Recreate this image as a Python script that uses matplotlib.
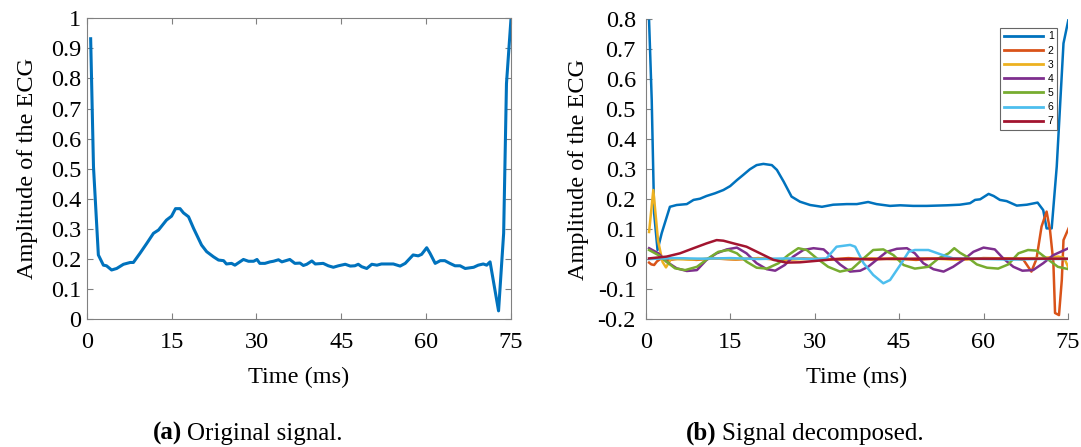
import matplotlib
matplotlib.use("Agg")
import matplotlib.pyplot as plt

# ---------------- data ----------------
# (a) original signal
orig_t = [0.7, 1.2, 2.06, 2.95, 3.5, 4.4, 5.3, 6.5, 7.7, 8.25, 9.4, 10.6, 11.8, 12.7, 14.1, 15.0,
          15.7, 16.5, 17.1, 18.0, 18.9, 20.3, 21.2, 22.4, 23.3, 24.2, 24.7, 25.6, 26.2, 27.7, 28.6,
          29.5, 30.1, 30.6, 31.5, 32.4, 33.0, 33.9, 34.5, 35.9, 36.8, 37.7, 38.3, 38.9, 39.8, 40.4,
          41.8, 42.7, 43.6, 44.5, 45.7, 46.6, 47.4, 48.0, 48.6, 49.5, 50.4, 51.3, 52.1, 54.2, 55.4,
          56.3, 57.7, 58.6, 59.2, 60.1, 60.7, 61.6, 62.5, 63.3, 64.2, 65.1, 66.0, 66.9, 68.4, 69.2,
          70.1, 70.7, 71.3, 72.8, 73.7, 74.2, 75.0]
orig_v = [0.932, 0.506, 0.213, 0.179, 0.177, 0.163, 0.168, 0.182, 0.188, 0.188, 0.218, 0.251, 0.285,
          0.296, 0.329, 0.342, 0.367, 0.367, 0.353, 0.340, 0.301, 0.246, 0.224, 0.207, 0.196, 0.194,
          0.183, 0.185, 0.179, 0.198, 0.192, 0.192, 0.198, 0.185, 0.185, 0.190, 0.192, 0.197, 0.190,
          0.198, 0.185, 0.186, 0.178, 0.182, 0.193, 0.183, 0.185, 0.177, 0.172, 0.177, 0.182, 0.176,
          0.177, 0.182, 0.174, 0.168, 0.182, 0.179, 0.183, 0.183, 0.176, 0.185, 0.213, 0.210, 0.215,
          0.237, 0.218, 0.185, 0.194, 0.194, 0.185, 0.177, 0.177, 0.168, 0.172, 0.179, 0.183, 0.179,
          0.190, 0.027, 0.285, 0.783, 0.999]

# (b) decomposed components
c1_t = [0.6, 1.07, 1.5, 2.1, 2.84, 4.3, 5.5, 7.3, 8.5, 9.65, 10.8, 12.3, 13.8, 15.0, 16.2, 17.3, 18.5,
        19.7, 20.9, 22.4, 23.3, 24.5, 25.9, 27.4, 29.2, 31.3, 33.3, 35.7, 37.5, 39.5, 41.0, 43.4,
        45.2, 47.5, 49.9, 53.5, 55.8, 57.6, 58.5, 59.4, 60.9, 61.8, 62.9, 64.1, 65.9, 67.7, 69.6,
        70.6, 71.2, 72.1, 73.0, 74.2, 75.1]
c1_v = [0.794, 0.53, 0.152, 0.030, 0.086, 0.174, 0.180, 0.183, 0.197, 0.201, 0.210, 0.219, 0.230,
        0.243, 0.263, 0.280, 0.299, 0.313, 0.317, 0.313, 0.297, 0.258, 0.208, 0.191, 0.180, 0.174,
        0.181, 0.183, 0.183, 0.190, 0.183, 0.177, 0.179, 0.177, 0.177, 0.179, 0.181, 0.186, 0.197,
        0.199, 0.217, 0.210, 0.197, 0.193, 0.178, 0.181, 0.188, 0.163, 0.102, 0.102, 0.308, 0.719,
        0.800]

c2_t = [0.6, 1.0, 1.5, 2.0, 2.6, 4.0, 6.0, 9.0, 12.0, 16.0, 20.0, 24.0, 28.0, 32.0, 36.0, 40.0,
        44.0, 48.0, 52.0, 56.0, 60.0, 64.0, 66.1, 67.1, 68.5, 69.4, 70.3, 71.2, 71.8, 72.4, 72.7,
        73.4, 73.9, 74.2, 75.1]
c2_v = [-0.012, -0.018, -0.02, -0.008, 0.0, -0.004, 0.002, -0.003, 0.002, -0.002, 0.003, -0.003,
        0.002, -0.002, 0.003, -0.002, 0.002, -0.003, 0.002, -0.002, 0.003, 0.002, 0.0, -0.003,
        -0.042, 0.0, 0.108, 0.158, 0.097, -0.011, -0.180, -0.187, -0.070, 0.063, 0.102]

c3_t = [0.6, 1.35, 2.2, 3.0, 3.6, 4.5, 8.0, 12.0, 16.0, 20.0, 25.0, 30.0, 35.0, 40.0, 45.0, 50.0,
        55.0, 60.0, 65.0, 70.0, 72.0, 73.3, 74.3, 75.1]
c3_v = [0.09, 0.23, 0.06, -0.01, -0.028, 0.0, -0.002, 0.002, -0.001, 0.002, -0.002, 0.001, -0.002,
        0.002, -0.001, 0.002, -0.002, 0.001, 0.002, 0.003, 0.006, 0.008, 0.004, -0.030]

c4_t = [0.6, 2.25, 3.7, 5.5, 7.3, 9.1, 10.8, 12.6, 14.4, 16.2, 17.9, 19.7, 21.5, 23.0, 24.7, 26.2,
        28.0, 29.8, 31.6, 33.0, 34.5, 36.3, 38.1, 39.5, 41.0, 42.8, 44.6, 46.4, 47.8, 49.3, 51.1,
        52.9, 54.6, 56.4, 58.2, 60.0, 62.0, 63.5, 65.3, 66.9, 68.8, 70.6, 72.4, 75.1]
c4_v = [0.036, 0.019, -0.009, -0.031, -0.040, -0.037, -0.003, 0.019, 0.032, 0.038, 0.019, -0.014,
        -0.034, -0.039, -0.020, 0.008, 0.030, 0.036, 0.032, 0.008, -0.018, -0.042, -0.039, -0.026,
        -0.003, 0.024, 0.034, 0.036, 0.019, -0.014, -0.034, -0.042, -0.026, -0.003, 0.024, 0.038,
        0.032, 0.002, -0.026, -0.039, -0.037, -0.014, 0.013, 0.036]

c5_t = [0.6, 2.25, 3.7, 5.2, 7.0, 9.1, 11.1, 12.9, 14.7, 16.2, 17.9, 19.7, 21.5, 23.6, 25.3, 27.1,
        28.6, 30.4, 32.4, 34.5, 36.6, 38.7, 40.4, 42.2, 44.0, 45.8, 47.8, 50.2, 52.0, 53.8, 54.8,
        55.8, 57.0, 58.8, 60.6, 62.6, 64.4, 66.2, 67.9, 69.4, 71.2, 73.2, 75.1]
c5_v = [0.030, 0.013, -0.009, -0.031, -0.037, -0.026, 0.002, 0.024, 0.030, 0.019, -0.009, -0.029,
        -0.032, -0.014, 0.013, 0.036, 0.030, 0.002, -0.026, -0.042, -0.034, 0.002, 0.030, 0.032,
        0.013, -0.020, -0.032, -0.026, 0.002, 0.019, 0.036, 0.021, 0.008, -0.018, -0.029, -0.032,
        -0.018, 0.019, 0.030, 0.028, 0.002, -0.026, -0.034]

c6_t = [0.6, 5.0, 10.0, 15.0, 20.0, 25.0, 30.0, 32.1, 33.9, 36.3, 37.2, 38.7, 40.4, 42.2, 43.4,
        45.2, 46.7, 47.8, 50.2, 52.3, 54.6, 60.0, 65.0, 70.0, 75.1]
c6_v = [0.0, 0.003, 0.001, 0.003, 0.0, 0.002, 0.0, 0.002, 0.041, 0.047, 0.041, -0.014, -0.053,
        -0.081, -0.070, -0.020, 0.024, 0.030, 0.030, 0.016, 0.002, 0.0, -0.002, 0.0, 0.0]

c7_t = [0.6, 3.7, 6.1, 8.5, 10.8, 12.6, 13.8, 15.6, 17.9, 20.3, 22.7, 25.0, 27.4, 30.4, 33.3, 40.0,
        50.0, 60.0, 70.0, 75.1]
c7_v = [0.002, 0.008, 0.019, 0.036, 0.052, 0.063, 0.061, 0.052, 0.041, 0.019, -0.003, -0.012,
        -0.011, -0.006, -0.001, 0.0, 0.001, 0.001, 0.001, 0.001]

comp_labels = ["1", "2", "3", "4", "5", "6", "7"]
comp_colors = ["#0072BD", "#D95319", "#EDB120", "#7E2F8E", "#77AC30", "#4DBEEE", "#A2142F"]

x_ticks = [0, 15, 30, 45, 60, 75]
ya_ticks = [0, 0.1, 0.2, 0.3, 0.4, 0.5, 0.6, 0.7, 0.8, 0.9, 1.0]
ya_labels = ["0", "0.1", "0.2", "0.3", "0.4", "0.5", "0.6", "0.7", "0.8", "0.9", "1"]
yb_ticks = [-0.2, -0.1, 0, 0.1, 0.2, 0.3, 0.4, 0.5, 0.6, 0.7, 0.8]
yb_labels = ["-0.2", "-0.1", "0", "0.1", "0.2", "0.3", "0.4", "0.5", "0.6", "0.7", "0.8"]

# ---------------- figure ----------------
W, H = 1081, 447
fig = plt.figure(figsize=(W / 100, H / 100), dpi=100)
SERIF = "Liberation Serif"
FS = 17.5
SPINE = "#808080"

def px_axes(l, t, r, b):
    return fig.add_axes([l / W, 1 - b / H, (r - l) / W, (b - t) / H])

axA = px_axes(86.7, 18.3, 511, 319)
axB = px_axes(645.7, 19, 1068, 319)

axA.plot(orig_t, orig_v, color="#0072BD", lw=2.2, solid_joinstyle="round")
axA.set_xlim(0, 75)
axA.set_ylim(0, 1)
axA.set_xticks(x_ticks)
axA.set_yticks(ya_ticks)
axA.set_yticklabels(ya_labels)
axA.tick_params(direction="in", top=True, right=True, length=4, width=0.8, color=SPINE)
axA.tick_params(axis="y", pad=4)
axA.tick_params(axis="x", pad=9)
for s in axA.spines.values():
    s.set_color(SPINE)
    s.set_linewidth(0.8)

series = [(c1_t, c1_v), (c2_t, c2_v), (c3_t, c3_v), (c4_t, c4_v),
          (c5_t, c5_v), (c6_t, c6_v), (c7_t, c7_v)]
for (t, v), lab, col in zip(series, comp_labels, comp_colors):
    axB.plot(t, v, color=col, lw=1.8, label=lab, solid_joinstyle="round")
axB.set_xlim(0, 75)
axB.set_ylim(-0.2, 0.8)
axB.set_xticks(x_ticks)
axB.set_yticks(yb_ticks)
axB.set_yticklabels(yb_labels)
axB.tick_params(direction="in", length=4, width=0.8, color=SPINE)
axB.tick_params(axis="y", pad=7)
axB.tick_params(axis="x", pad=9)
axB.spines["top"].set_visible(False)
axB.spines["right"].set_visible(False)
for s in ("left", "bottom"):
    axB.spines[s].set_color(SPINE)
    axB.spines[s].set_linewidth(0.8)

leg = axB.legend(loc="upper right", bbox_to_anchor=(0.9747, 0.971), borderaxespad=0,
                 prop={"family": "Liberation Sans", "size": 7.5}, handlelength=3.7,
                 handletextpad=0.5, labelspacing=0.4, borderpad=0.35, fancybox=False,
                 framealpha=1)
leg.get_frame().set_edgecolor("#666666")
leg.get_frame().set_linewidth(0.8)
for h in leg.get_lines():
    h.set_linewidth(2.0)

axA.set_xlabel("Time (ms)", fontfamily=SERIF, fontsize=FS, labelpad=10)
axB.set_xlabel("Time (ms)", fontfamily=SERIF, fontsize=FS, labelpad=10)
axA.set_ylabel("Amplitude of the ECG", fontfamily=SERIF, fontsize=FS, labelpad=9)
axB.set_ylabel("Amplitude of the ECG", fontfamily=SERIF, fontsize=FS, labelpad=6)
for ax in (axA, axB):
    for lab in ax.get_xticklabels() + ax.get_yticklabels():
        lab.set_fontfamily(SERIF)
        lab.set_fontsize(FS)

# captions
cap_y = 1 - 440 / H
t1 = fig.text(153 / W, cap_y, "(a)", fontfamily=SERIF, fontsize=18, fontweight="bold",
              va="baseline", ha="left")
fig.canvas.draw()
r = fig.canvas.get_renderer()
bb = t1.get_window_extent(r)
fig.text(bb.x1 / W + 5 / W, cap_y, "Original signal.", fontfamily=SERIF, fontsize=18,
         va="baseline", ha="left")
t2 = fig.text(686 / W, cap_y, "(b)", fontfamily=SERIF, fontsize=18, fontweight="bold",
              va="baseline", ha="left")
bb2 = t2.get_window_extent(r)
fig.text(bb2.x1 / W + 5 / W, cap_y, "Signal decomposed.", fontfamily=SERIF, fontsize=18,
         va="baseline", ha="left")

fig.savefig("out.png", dpi=100)
